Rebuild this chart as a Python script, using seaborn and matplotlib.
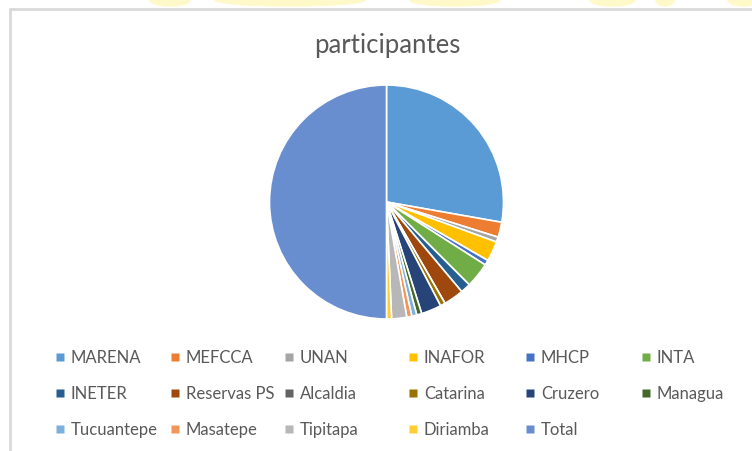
import matplotlib
matplotlib.use('Agg')
import matplotlib.pyplot as plt
import seaborn as sns
from matplotlib.lines import Line2D
from matplotlib.patches import Rectangle, Ellipse

# datos
categorias = ['MARENA', 'MEFCCA', 'UNAN', 'INAFOR', 'MHCP', 'INTA',
              'INETER', 'Reservas PS', 'Alcaldia', 'Catarina', 'Cruzero', 'Managua',
              'Tucuantepe', 'Masatepe', 'Tipitapa', 'Diriamba', 'Total']
participantes = [40, 3, 1, 4, 1, 5,
                 2, 4, 0, 1, 4, 1,
                 1, 1, 3, 1, 72]
colores = ['#5B9BD5', '#ED7D31', '#A5A5A5', '#FFC000', '#4472C4', '#70AD47',
           '#255E91', '#9E480E', '#636363', '#997300', '#264478', '#43682B',
           '#7CAFDD', '#F1975A', '#B7B7B7', '#FFCD33', '#698ED0']

sns.set_theme(style='white')
plt.rcParams['font.family'] = ['Lato', 'DejaVu Sans']
paleta = sns.color_palette(colores)

W, H = 752, 451
fig = plt.figure(figsize=(W / 100, H / 100), dpi=100)
fig.patch.set_facecolor('white')

# manchas amarillas del fondo (arriba) y borde del grafico
for x0, w in [(150, 40), (215, 150), (410, 90), (590, 45), (656, 18), (728, 30)]:
    fig.patches.append(Ellipse(((x0 + w / 2) / W, 1.0), w / W, 12 / H,
                               transform=fig.transFigure, color='#FFF8C8', zorder=-2))
fig.patches.append(Rectangle((0, 0), 1, (H - 8) / H, transform=fig.transFigure,
                             facecolor='white', edgecolor='none', zorder=-1))
fig.add_artist(Line2D([9.5 / W, 1], [(H - 9) / H, (H - 9) / H], transform=fig.transFigure,
                      color='#D9D9D9', lw=2.0))
fig.add_artist(Line2D([9.5 / W, 9.5 / W], [0, (H - 9) / H], transform=fig.transFigure,
                      color='#D9D9D9', lw=2.0))

# pie
cx, cy, r = 386.5, 202, 117
ax = fig.add_axes([(cx - r) / W, (H - cy - r) / H, 2 * r / W, 2 * r / H])
ax.set_zorder(2)
ax.pie(participantes, colors=paleta, startangle=90, counterclock=False,
       wedgeprops=dict(edgecolor='white', linewidth=1.2))
ax.set_xlim(-1.0, 1.0)
ax.set_ylim(-1.0, 1.0)
ax.axis('off')

fig.text(387 / W, 1 - 45 / H, 'participantes', ha='center', va='center',
         fontsize=18.5, color='#595959')

# leyenda: 6 columnas
col_x = [55, 170, 284, 408, 525, 641]
filas_y = [356, 392, 428]
for c, x in enumerate(col_x):
    idx = [c + 6 * f for f in range(3) if c + 6 * f < len(categorias)]
    handles = [Line2D([], [], marker='s', linestyle='none', markersize=5.5,
                      markerfacecolor=paleta[i], markeredgecolor='none') for i in idx]
    leg = fig.legend(handles, [categorias[i] for i in idx], loc='upper left',
                     bbox_to_anchor=(x / W, 1 - (filas_y[0] - 6) / H),
                     frameon=False, fontsize=12, labelcolor='#595959',
                     handlelength=0.6, handletextpad=0.35, labelspacing=1.2,
                     borderpad=0, borderaxespad=0)

fig.savefig('out.png', dpi=100, facecolor='white')
